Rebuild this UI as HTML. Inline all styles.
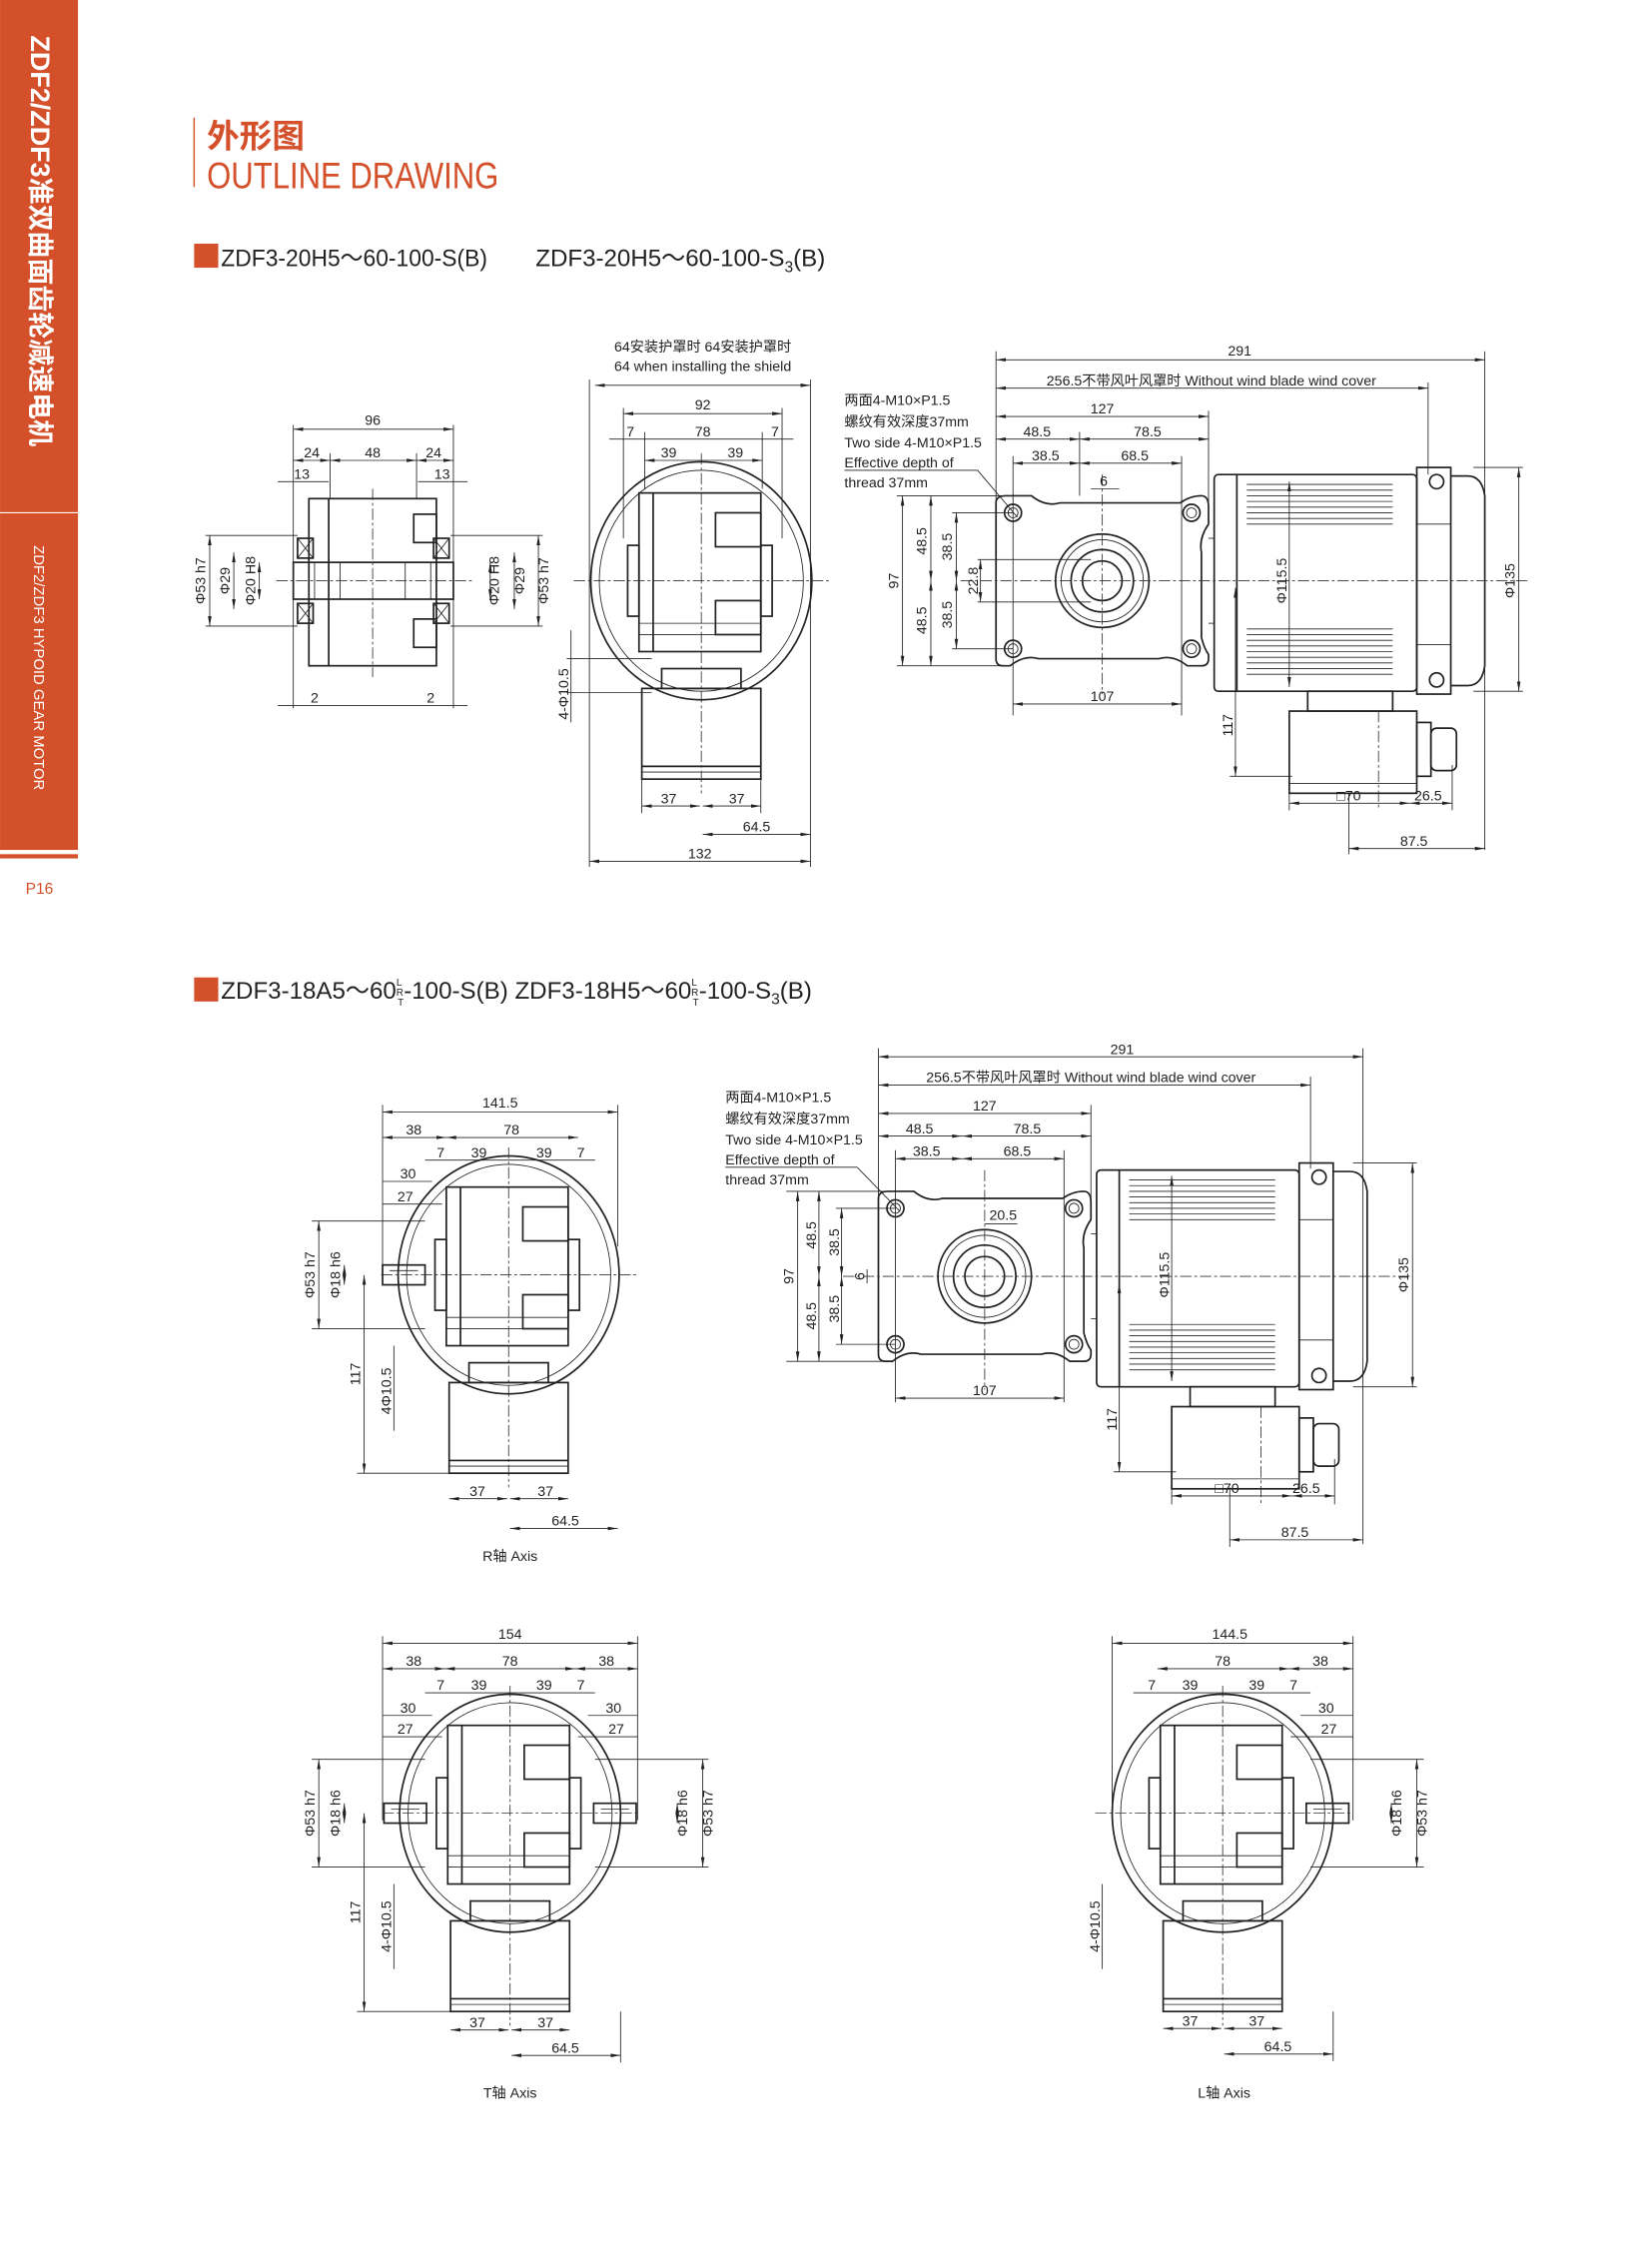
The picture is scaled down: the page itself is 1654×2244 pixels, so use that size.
<!DOCTYPE html>
<html><head><meta charset="utf-8">
<style>
html,body{margin:0;padding:0;background:#fff;}
svg{display:block;}
text{font-family:"Liberation Sans Narrow","Liberation Sans","Noto Sans CJK SC",sans-serif;fill:#222;}
.t{font-size:10px;text-anchor:middle;}
.n{font-size:10px;}
.s{stroke:#222;fill:none;stroke-width:1.2;}
.th{stroke:#222;fill:none;stroke-width:0.6;}
.c{stroke:#333;fill:none;stroke-width:0.6;stroke-dasharray:8 2 2 2;}
.d{stroke:#222;fill:none;stroke-width:0.6;marker-start:url(#a);marker-end:url(#a);}
</style></head><body>
<svg width="1654" height="2244" viewBox="0 0 1166 1582" xmlns="http://www.w3.org/2000/svg">
<defs>
<marker id="a" viewBox="0 0 10 10" refX="10" refY="5" markerWidth="7" markerHeight="7" orient="auto-start-reverse" markerUnits="userSpaceOnUse">
<path d="M0,3.2 L10,5 L0,6.8 z" fill="#222"/></marker>
<g id="round">
<ellipse class="s" cx="0" cy="0" rx="78" ry="84"/>
<ellipse class="th" cx="0" cy="0" rx="72" ry="78"/>
<rect class="s" x="-44" y="-62" width="86" height="112"/>
<line class="s" x1="-34" y1="-62" x2="-34" y2="50"/>
<rect class="s" x="10" y="-48" width="32" height="24"/>
<rect class="s" x="10" y="14" width="32" height="24"/>
<rect class="s" x="-52" y="-25" width="8" height="50"/>
<rect class="s" x="42" y="-25" width="8" height="50"/>
<line class="th" x1="-44" y1="30" x2="42" y2="30"/>
<line class="th" x1="-44" y1="38" x2="42" y2="38"/>
<rect class="s" x="-28" y="62" width="56" height="14"/>
<rect class="s" x="-42" y="76" width="84" height="64"/>
<line class="s" x1="-42" y1="131" x2="42" y2="131"/>
<line class="th" x1="-42" y1="135" x2="42" y2="135"/>
<line class="c" x1="-90" y1="0" x2="90" y2="0"/>
<line class="c" x1="0" y1="-90" x2="0" y2="150"/>
</g>
<g id="shaft">
<rect class="s" x="0" y="-7" width="30" height="14"/>
<line class="th" x1="5" y1="-3" x2="25" y2="-3"/>
</g>
<g id="motor">
<path class="s" d="M-75,-55 Q-75,-60 -68,-60 L-50,-60 Q-40,-52 -30,-55 L55,-55 Q62,-60 70,-60 Q75,-60 75,-52 L75,-40 Q68,-30 70,-20 L70,40 Q72,48 75,52 L75,55 Q75,60 70,60 L60,60 Q50,52 40,55 L-45,55 Q-55,52 -65,60 L-70,60 Q-75,60 -75,55 Z"/>
<circle class="s" cx="-63" cy="-48" r="6"/><circle class="th" cx="-63" cy="-48" r="3.5"/>
<circle class="s" cx="63" cy="-48" r="6"/><circle class="th" cx="63" cy="-48" r="3.5"/>
<circle class="s" cx="-63" cy="48" r="6"/><circle class="th" cx="-63" cy="48" r="3.5"/>
<circle class="s" cx="63" cy="48" r="6"/><circle class="th" cx="63" cy="48" r="3.5"/>
<circle class="s" cx="0" cy="0" r="33"/><circle class="th" cx="0" cy="0" r="29"/>
<circle class="s" cx="0" cy="0" r="22"/><circle class="s" cx="0" cy="0" r="14"/>
<line class="th" x1="75" y1="-30" x2="79" y2="-30"/><line class="th" x1="75" y1="30" x2="79" y2="30"/>
<rect class="s" x="79" y="-75" width="143" height="153" rx="3"/>
<line class="s" x1="95" y1="-75" x2="95" y2="78"/>
<g class="th">
<path d="M102,-68H205M102,-64H205M102,-60H205M102,-56H205M102,-52H205M102,-48H205M102,-44H205M102,-40H205"/>
<path d="M102,34H205M102,38H205M102,42H205M102,46H205M102,50H205M102,54H205M102,58H205M102,62H205M102,66H205"/>
</g>
<rect class="s" x="222" y="-80" width="24" height="160"/>
<path class="s" d="M246,-74 L258,-74 Q268,-74 270,-60 L270,60 Q268,74 258,74 L246,74"/>
<circle class="s" cx="236" cy="-70" r="5"/><circle class="s" cx="236" cy="70" r="5"/>
<line class="th" x1="222" y1="-40" x2="246" y2="-40"/><line class="th" x1="222" y1="45" x2="246" y2="45"/>
<rect class="s" x="145" y="78" width="60" height="14"/>
<rect class="s" x="132" y="92" width="90" height="58"/>
<line class="th" x1="132" y1="143" x2="222" y2="143"/>
<rect class="s" x="222" y="100" width="10" height="38"/>
<rect class="s" x="232" y="104" width="18" height="30" rx="4"/>
<line class="c" x1="-100" y1="0" x2="300" y2="0"/>
<line class="c" x1="0" y1="-75" x2="0" y2="80"/>
<line class="c" x1="195" y1="92" x2="195" y2="160"/>
</g>
</defs>

<rect x="0" y="0" width="55" height="600" fill="#d4502a"/>
<rect x="0" y="603" width="55" height="3" fill="#d4502a"/>
<line x1="0" y1="362" x2="55" y2="362" stroke="#fff" stroke-width="0.8"/>
<text transform="translate(22,25) rotate(90)" style="font-family:'Liberation Sans','Noto Sans CJK SC',sans-serif;font-size:19px;font-weight:bold;fill:#fff">ZDF2/ZDF3准双曲面齿轮减速电机</text>
<text transform="translate(24,385) rotate(90)" style="font-family:'Liberation Sans',sans-serif;font-size:10.5px;fill:#fff">ZDF2/ZDF3 HYPOID GEAR MOTOR</text>
<text x="18" y="631" style="font-size:11px;fill:#d4502a">P16</text>

<line x1="137" y1="83" x2="137" y2="132" stroke="#d4502a" stroke-width="1"/>
<text x="146" y="104" style="font-family:'Noto Sans CJK SC',sans-serif;font-size:23px;font-weight:bold;fill:#d4502a">外形图</text>
<text x="146" y="133" style="font-size:26px;fill:#d4502a" textLength="206" lengthAdjust="spacingAndGlyphs">OUTLINE DRAWING</text>

<rect x="137" y="172" width="17" height="17" fill="#d4502a"/>
<text x="156" y="188" style="font-size:17px" textLength="188" lengthAdjust="spacingAndGlyphs">ZDF3-20H5～60-100-S(B)</text>
<text x="378" y="188" style="font-size:17px">ZDF3-20H5～60-100-S<tspan dy="4" font-size="11">3</tspan><tspan dy="-4">(B)</tspan></text>

<rect x="137" y="690" width="17" height="17" fill="#d4502a"/>
<text x="156" y="705" style="font-size:17px">ZDF3-18A5～60<tspan font-size="7" dy="-9" dx="0">L</tspan><tspan font-size="7" dx="-4" dy="7">R</tspan><tspan font-size="7" dx="-4" dy="7">T</tspan><tspan dy="-5">-100-S(B)  ZDF3-18H5～60</tspan><tspan font-size="7" dy="-9">L</tspan><tspan font-size="7" dx="-4" dy="7">R</tspan><tspan font-size="7" dx="-4" dy="7">T</tspan><tspan dy="-5">-100-S</tspan><tspan font-size="11" dy="4">3</tspan><tspan dy="-4">(B)</tspan></text>

<g>
<rect class="s" x="218" y="352" width="90" height="118"/>
<line class="s" x1="232" y1="352" x2="232" y2="470"/>
<rect class="s" x="207" y="397" width="113" height="26"/>
<line class="th" x1="222" y1="397" x2="222" y2="423"/><line class="th" x1="304" y1="397" x2="304" y2="423"/>
<line class="th" x1="240" y1="397" x2="240" y2="423"/><line class="th" x1="286" y1="397" x2="286" y2="423"/>
<rect class="s" x="210" y="380" width="11" height="14"/><path class="th" d="M210,380 L221,394 M221,380 L210,394"/>
<rect class="s" x="306" y="380" width="11" height="14"/><path class="th" d="M306,380 L317,394 M317,380 L306,394"/>
<rect class="s" x="210" y="426" width="11" height="14"/><path class="th" d="M210,426 L221,440 M221,426 L210,440"/>
<rect class="s" x="306" y="426" width="11" height="14"/><path class="th" d="M306,426 L317,440 M317,426 L306,440"/>
<rect class="s" x="292" y="363" width="16" height="20"/><rect class="s" x="292" y="437" width="16" height="20"/>
<line class="c" x1="195" y1="410" x2="335" y2="410"/><line class="c" x1="263" y1="345" x2="263" y2="478"/>
<line class="d" x1="207" y1="303" x2="320" y2="303"/><text class="t" x="263" y="300">96</text>
<line class="d" x1="207" y1="325" x2="233" y2="325"/><line class="d" x1="233" y1="325" x2="294" y2="325"/><line class="d" x1="294" y1="325" x2="320" y2="325"/>
<text class="t" x="220" y="323">24</text><text class="t" x="263" y="323">48</text><text class="t" x="306" y="323">24</text>
<line class="th" x1="196" y1="340" x2="232" y2="340"/><line class="th" x1="295" y1="340" x2="330" y2="340"/>
<text class="t" x="213" y="338">13</text><text class="t" x="312" y="338">13</text>
<line class="th" x1="207" y1="300" x2="207" y2="500"/><line class="th" x1="320" y1="300" x2="320" y2="500"/>
<line class="th" x1="233" y1="320" x2="233" y2="352"/><line class="th" x1="294" y1="320" x2="294" y2="352"/>
<line class="d" x1="148" y1="378" x2="148" y2="442"/><line class="d" x1="165" y1="390" x2="165" y2="430"/><line class="d" x1="183" y1="397" x2="183" y2="423"/>
<line class="d" x1="346" y1="397" x2="346" y2="423"/><line class="d" x1="363" y1="390" x2="363" y2="430"/><line class="d" x1="380" y1="378" x2="380" y2="442"/>
<line class="th" x1="145" y1="378" x2="210" y2="378"/><line class="th" x1="145" y1="442" x2="210" y2="442"/>
<line class="th" x1="318" y1="378" x2="383" y2="378"/><line class="th" x1="318" y1="442" x2="383" y2="442"/>
<text class="t" transform="translate(145,410) rotate(-90)">Φ53 h7</text>
<text class="t" transform="translate(162,410) rotate(-90)">Φ29</text>
<text class="t" transform="translate(180,410) rotate(-90)">Φ20 H8</text>
<text class="t" transform="translate(352,410) rotate(-90)">Φ20 H8</text>
<text class="t" transform="translate(370,410) rotate(-90)">Φ29</text>
<text class="t" transform="translate(387,410) rotate(-90)">Φ53 h7</text>
<line class="th" x1="196" y1="498" x2="330" y2="498"/>
<text class="t" x="222" y="496">2</text><text class="t" x="304" y="496">2</text>
</g>

<use href="#round" x="495" y="410"/>
<text class="t" x="496" y="248">64安装护罩时  64安装护罩时</text>
<text class="t" x="496" y="262">64 when installing the shield</text>
<line class="d" x1="420" y1="272" x2="572" y2="272"/>
<line class="d" x1="440" y1="292" x2="552" y2="292"/><text class="t" x="496" y="289">92</text>
<line class="th" x1="430" y1="310" x2="560" y2="310"/>
<text class="t" x="445" y="308">7</text><text class="t" x="496" y="308">78</text><text class="t" x="547" y="308">7</text>
<line class="d" x1="455" y1="325" x2="538" y2="325"/>
<text class="t" x="472" y="323">39</text><text class="t" x="519" y="323">39</text>
<line class="th" x1="440" y1="288" x2="440" y2="380"/><line class="th" x1="552" y1="288" x2="552" y2="380"/>
<line class="th" x1="455" y1="305" x2="455" y2="345"/><line class="th" x1="538" y1="305" x2="538" y2="345"/>
<line class="th" x1="416" y1="268" x2="416" y2="612"/><line class="th" x1="572" y1="268" x2="572" y2="612"/>
<line class="th" x1="400" y1="465" x2="460" y2="465"/><line class="th" x1="400" y1="489" x2="460" y2="489"/>
<line class="th" x1="403" y1="445" x2="403" y2="510"/>
<text class="t" transform="translate(401,490) rotate(-90)">4-Φ10.5</text>
<line class="d" x1="453" y1="569" x2="494" y2="569"/><line class="d" x1="496" y1="569" x2="537" y2="569"/>
<text class="t" x="472" y="567">37</text><text class="t" x="520" y="567">37</text>
<line class="th" x1="453" y1="550" x2="453" y2="574"/><line class="th" x1="537" y1="550" x2="537" y2="574"/>
<line class="d" x1="496" y1="589" x2="572" y2="589"/><text class="t" x="534" y="587">64.5</text>
<line class="d" x1="416" y1="608" x2="572" y2="608"/><text class="t" x="494" y="606">132</text>

<use href="#motor" x="778" y="410"/>
<line class="th" x1="703" y1="248" x2="703" y2="360"/><line class="th" x1="1048" y1="248" x2="1048" y2="600"/>
<line class="d" x1="703" y1="254" x2="1048" y2="254"/><text class="t" x="875" y="251">291</text>
<line class="d" x1="703" y1="274" x2="1008" y2="274"/><text class="t" x="855" y="272">256.5不带风叶风罩时 Without wind blade wind cover</text>
<line class="th" x1="1008" y1="270" x2="1008" y2="335"/>
<line class="d" x1="703" y1="294" x2="853" y2="294"/><text class="t" x="778" y="292">127</text>
<line class="th" x1="853" y1="290" x2="853" y2="360"/>
<line class="d" x1="703" y1="310" x2="762" y2="310"/><line class="d" x1="762" y1="310" x2="853" y2="310"/>
<text class="t" x="732" y="308">48.5</text><text class="t" x="810" y="308">78.5</text>
<line class="d" x1="715" y1="327" x2="762" y2="327"/><line class="d" x1="762" y1="327" x2="834" y2="327"/>
<text class="t" x="738" y="325">38.5</text><text class="t" x="801" y="325">68.5</text>
<line class="th" x1="715" y1="322" x2="715" y2="505"/><line class="th" x1="834" y1="322" x2="834" y2="505"/>
<line class="th" x1="762" y1="305" x2="762" y2="350"/>
<line class="th" x1="770" y1="345" x2="790" y2="345"/><text class="t" x="779" y="343">6</text>
<text class="n" x="596" y="286">两面4-M10×P1.5</text>
<text class="n" x="596" y="301">螺纹有效深度37mm</text>
<text class="n" x="596" y="316">Two side 4-M10×P1.5</text>
<text class="n" x="596" y="330">Effective depth of</text>
<text class="n" x="596" y="344">thread 37mm</text>
<line class="th" x1="596" y1="332" x2="690" y2="332"/><line class="th" x1="690" y1="332" x2="718" y2="365"/>
<line class="th" x1="633" y1="350" x2="710" y2="350"/><line class="th" x1="633" y1="470" x2="710" y2="470"/>
<line class="d" x1="637" y1="350" x2="637" y2="470"/><text class="t" transform="translate(634,410) rotate(-90)">97</text>
<line class="d" x1="657" y1="350" x2="657" y2="410"/><line class="d" x1="657" y1="410" x2="657" y2="470"/>
<text class="t" transform="translate(654,382) rotate(-90)">48.5</text><text class="t" transform="translate(654,438) rotate(-90)">48.5</text>
<line class="th" x1="672" y1="362" x2="715" y2="362"/><line class="th" x1="672" y1="458" x2="715" y2="458"/>
<line class="d" x1="675" y1="362" x2="675" y2="410"/><line class="d" x1="675" y1="410" x2="675" y2="458"/>
<text class="t" transform="translate(672,386) rotate(-90)">38.5</text><text class="t" transform="translate(672,434) rotate(-90)">38.5</text>
<line class="th" x1="690" y1="395" x2="770" y2="395"/><line class="th" x1="690" y1="425" x2="770" y2="425"/>
<line class="d" x1="692" y1="395" x2="692" y2="425"/><text class="t" transform="translate(690,410) rotate(-90)">22.8</text>
<line class="d" x1="715" y1="497" x2="834" y2="497"/><text class="t" x="778" y="495">107</text>
<line class="d" x1="910" y1="340" x2="910" y2="485"/>
<text class="t" transform="translate(908,410) rotate(-90)">Φ115.5</text>
<line class="th" x1="1040" y1="330" x2="1075" y2="330"/><line class="th" x1="1040" y1="488" x2="1075" y2="488"/>
<line class="d" x1="1072" y1="330" x2="1072" y2="488"/>
<text class="t" transform="translate(1069,410) rotate(-90)">Φ135</text>
<line class="d" x1="872" y1="415" x2="872" y2="548"/><line class="th" x1="868" y1="548" x2="912" y2="548"/>
<text class="t" transform="translate(870,512) rotate(-90)">117</text>
<line class="d" x1="910" y1="567" x2="995" y2="567"/><line class="d" x1="995" y1="567" x2="1025" y2="567"/>
<text class="t" x="952" y="565">□70</text><text class="t" x="1008" y="565">26.5</text>
<line class="th" x1="910" y1="550" x2="910" y2="572"/><line class="th" x1="1025" y1="540" x2="1025" y2="572"/>
<line class="th" x1="952" y1="560" x2="952" y2="603"/>
<line class="d" x1="952" y1="599" x2="1048" y2="599"/><text class="t" x="998" y="597">87.5</text>

<use href="#round" x="359" y="900"/>
<use href="#shaft" transform="translate(300,900) scale(-1,1)"/>
<line class="d" x1="270" y1="785" x2="436" y2="785"/><text class="t" x="353" y="782">141.5</text>
<line class="d" x1="270" y1="803" x2="315" y2="803"/><line class="d" x1="315" y1="803" x2="408" y2="803"/>
<text class="t" x="292" y="801">38</text><text class="t" x="361" y="801">78</text>
<line class="th" x1="300" y1="819" x2="420" y2="819"/>
<text class="t" x="311" y="817">7</text><text class="t" x="338" y="817">39</text><text class="t" x="384" y="817">39</text><text class="t" x="410" y="817">7</text>
<line class="th" x1="270" y1="834" x2="305" y2="834"/><text class="t" x="288" y="832">30</text>
<line class="th" x1="270" y1="850" x2="312" y2="850"/><text class="t" x="286" y="848">27</text>
<line class="th" x1="270" y1="780" x2="270" y2="905"/><line class="th" x1="436" y1="780" x2="436" y2="880"/>
<line class="d" x1="225" y1="862" x2="225" y2="938"/><line class="d" x1="243" y1="893" x2="243" y2="907"/>
<line class="th" x1="220" y1="862" x2="300" y2="862"/><line class="th" x1="220" y1="938" x2="300" y2="938"/>
<text class="t" transform="translate(222,900) rotate(-90)">Φ53 h7</text><text class="t" transform="translate(240,900) rotate(-90)">Φ18 h6</text>
<line class="d" x1="257" y1="900" x2="257" y2="1040"/><line class="th" x1="252" y1="1040" x2="318" y2="1040"/>
<text class="t" transform="translate(254,970) rotate(-90)">117</text>
<line class="th" x1="278" y1="950" x2="278" y2="1010"/>
<text class="t" transform="translate(276,982) rotate(-90)">4Φ10.5</text>
<line class="d" x1="317" y1="1058" x2="358" y2="1058"/><line class="d" x1="360" y1="1058" x2="401" y2="1058"/>
<text class="t" x="337" y="1056">37</text><text class="t" x="385" y="1056">37</text>
<line class="d" x1="360" y1="1079" x2="436" y2="1079"/><text class="t" x="399" y="1077">64.5</text>
<text class="t" x="360" y="1102">R轴 Axis</text>

<use href="#motor" x="695" y="901"/>
<line class="th" x1="620" y1="740" x2="620" y2="850"/><line class="th" x1="962" y1="740" x2="962" y2="1090"/>
<line class="d" x1="620" y1="746" x2="962" y2="746"/><text class="t" x="792" y="744">291</text>
<line class="d" x1="620" y1="766" x2="925" y2="766"/><text class="t" x="770" y="764">256.5不带风叶风罩时 Without wind blade wind cover</text>
<line class="th" x1="925" y1="760" x2="925" y2="825"/>
<line class="d" x1="620" y1="786" x2="770" y2="786"/><text class="t" x="695" y="784">127</text>
<line class="th" x1="770" y1="780" x2="770" y2="850"/>
<line class="d" x1="620" y1="802" x2="679" y2="802"/><line class="d" x1="679" y1="802" x2="770" y2="802"/>
<text class="t" x="649" y="800">48.5</text><text class="t" x="725" y="800">78.5</text>
<line class="d" x1="632" y1="818" x2="679" y2="818"/><line class="d" x1="679" y1="818" x2="751" y2="818"/>
<text class="t" x="654" y="816">38.5</text><text class="t" x="718" y="816">68.5</text>
<line class="th" x1="632" y1="812" x2="632" y2="990"/><line class="th" x1="751" y1="812" x2="751" y2="990"/>
<text class="n" x="512" y="778">两面4-M10×P1.5</text>
<text class="n" x="512" y="793">螺纹有效深度37mm</text>
<text class="n" x="512" y="808">Two side 4-M10×P1.5</text>
<text class="n" x="512" y="822">Effective depth of</text>
<text class="n" x="512" y="836">thread 37mm</text>
<line class="th" x1="512" y1="824" x2="605" y2="824"/><line class="th" x1="605" y1="824" x2="635" y2="855"/>
<text class="t" x="708" y="861">20.5</text><line class="th" x1="695" y1="864" x2="718" y2="864"/>
<line class="th" x1="555" y1="841" x2="625" y2="841"/><line class="th" x1="555" y1="961" x2="625" y2="961"/>
<line class="d" x1="563" y1="841" x2="563" y2="961"/><text class="t" transform="translate(560,901) rotate(-90)">97</text>
<line class="d" x1="578" y1="841" x2="578" y2="901"/><line class="d" x1="578" y1="901" x2="578" y2="961"/>
<text class="t" transform="translate(576,872) rotate(-90)">48.5</text><text class="t" transform="translate(576,929) rotate(-90)">48.5</text>
<line class="th" x1="590" y1="853" x2="632" y2="853"/><line class="th" x1="590" y1="949" x2="632" y2="949"/>
<line class="d" x1="594" y1="853" x2="594" y2="901"/><line class="d" x1="594" y1="901" x2="594" y2="949"/>
<text class="t" transform="translate(592,877) rotate(-90)">38.5</text><text class="t" transform="translate(592,924) rotate(-90)">38.5</text>
<line class="th" x1="612" y1="896" x2="612" y2="906"/><text class="t" transform="translate(610,901) rotate(-90)">6</text>
<line class="d" x1="632" y1="987" x2="751" y2="987"/><text class="t" x="695" y="985">107</text>
<line class="d" x1="827" y1="830" x2="827" y2="975"/><text class="t" transform="translate(825,900) rotate(-90)">Φ115.5</text>
<line class="th" x1="955" y1="821" x2="1000" y2="821"/><line class="th" x1="955" y1="979" x2="1000" y2="979"/>
<line class="d" x1="997" y1="821" x2="997" y2="979"/><text class="t" transform="translate(994,900) rotate(-90)">Φ135</text>
<line class="d" x1="790" y1="906" x2="790" y2="1039"/><line class="th" x1="786" y1="1039" x2="830" y2="1039"/>
<text class="t" transform="translate(788,1002) rotate(-90)">117</text>
<line class="d" x1="827" y1="1056" x2="912" y2="1056"/><line class="d" x1="912" y1="1056" x2="942" y2="1056"/>
<text class="t" x="866" y="1054">□70</text><text class="t" x="922" y="1054">26.5</text>
<line class="th" x1="827" y1="1040" x2="827" y2="1062"/><line class="th" x1="942" y1="1030" x2="942" y2="1062"/>
<line class="th" x1="868" y1="1050" x2="868" y2="1092"/>
<line class="d" x1="868" y1="1087" x2="962" y2="1087"/><text class="t" x="914" y="1085">87.5</text>

<use href="#round" x="360" y="1280"/>
<use href="#shaft" transform="translate(301,1280) scale(-1,1)"/>
<use href="#shaft" x="419" y="1280"/>
<line class="d" x1="270" y1="1160" x2="450" y2="1160"/><text class="t" x="360" y="1157">154</text>
<line class="d" x1="270" y1="1178" x2="314" y2="1178"/><line class="d" x1="314" y1="1178" x2="406" y2="1178"/><line class="d" x1="406" y1="1178" x2="450" y2="1178"/>
<text class="t" x="292" y="1176">38</text><text class="t" x="360" y="1176">78</text><text class="t" x="428" y="1176">38</text>
<line class="th" x1="300" y1="1195" x2="420" y2="1195"/>
<text class="t" x="311" y="1193">7</text><text class="t" x="338" y="1193">39</text><text class="t" x="384" y="1193">39</text><text class="t" x="410" y="1193">7</text>
<line class="th" x1="270" y1="1211" x2="305" y2="1211"/><text class="t" x="288" y="1209">30</text>
<line class="th" x1="415" y1="1211" x2="450" y2="1211"/><text class="t" x="433" y="1209">30</text>
<line class="th" x1="270" y1="1226" x2="312" y2="1226"/><text class="t" x="286" y="1224">27</text>
<line class="th" x1="408" y1="1226" x2="450" y2="1226"/><text class="t" x="435" y="1224">27</text>
<line class="th" x1="270" y1="1155" x2="270" y2="1285"/><line class="th" x1="450" y1="1155" x2="450" y2="1285"/>
<line class="d" x1="225" y1="1242" x2="225" y2="1318"/><line class="d" x1="243" y1="1273" x2="243" y2="1287"/>
<line class="th" x1="220" y1="1242" x2="300" y2="1242"/><line class="th" x1="220" y1="1318" x2="300" y2="1318"/>
<text class="t" transform="translate(222,1280) rotate(-90)">Φ53 h7</text><text class="t" transform="translate(240,1280) rotate(-90)">Φ18 h6</text>
<line class="d" x1="478" y1="1273" x2="478" y2="1287"/><line class="d" x1="496" y1="1242" x2="496" y2="1318"/>
<line class="th" x1="420" y1="1242" x2="500" y2="1242"/><line class="th" x1="420" y1="1318" x2="500" y2="1318"/>
<text class="t" transform="translate(485,1280) rotate(-90)">Φ18 h6</text><text class="t" transform="translate(503,1280) rotate(-90)">Φ53 h7</text>
<line class="d" x1="257" y1="1280" x2="257" y2="1420"/><line class="th" x1="252" y1="1420" x2="318" y2="1420"/>
<text class="t" transform="translate(254,1350) rotate(-90)">117</text>
<line class="th" x1="278" y1="1330" x2="278" y2="1390"/>
<text class="t" transform="translate(276,1360) rotate(-90)">4-Φ10.5</text>
<line class="d" x1="318" y1="1433" x2="359" y2="1433"/><line class="d" x1="361" y1="1433" x2="402" y2="1433"/>
<text class="t" x="337" y="1431">37</text><text class="t" x="385" y="1431">37</text>
<line class="d" x1="361" y1="1451" x2="438" y2="1451"/><text class="t" x="399" y="1449">64.5</text>
<line class="th" x1="438" y1="1420" x2="438" y2="1456"/>
<text class="t" x="360" y="1481">T轴 Axis</text>

<use href="#round" x="863" y="1280"/>
<use href="#shaft" x="922" y="1280"/>
<line class="d" x1="785" y1="1160" x2="955" y2="1160"/><text class="t" x="868" y="1157">144.5</text>
<line class="d" x1="817" y1="1178" x2="910" y2="1178"/><line class="d" x1="910" y1="1178" x2="955" y2="1178"/>
<text class="t" x="863" y="1176">78</text><text class="t" x="932" y="1176">38</text>
<line class="th" x1="800" y1="1195" x2="925" y2="1195"/>
<text class="t" x="813" y="1193">7</text><text class="t" x="840" y="1193">39</text><text class="t" x="887" y="1193">39</text><text class="t" x="913" y="1193">7</text>
<line class="th" x1="918" y1="1211" x2="955" y2="1211"/><text class="t" x="936" y="1209">30</text>
<line class="th" x1="911" y1="1226" x2="955" y2="1226"/><text class="t" x="938" y="1224">27</text>
<line class="th" x1="785" y1="1155" x2="785" y2="1285"/><line class="th" x1="955" y1="1155" x2="955" y2="1285"/>
<line class="d" x1="982" y1="1273" x2="982" y2="1287"/><line class="d" x1="1000" y1="1242" x2="1000" y2="1318"/>
<line class="th" x1="925" y1="1242" x2="1005" y2="1242"/><line class="th" x1="925" y1="1318" x2="1005" y2="1318"/>
<text class="t" transform="translate(989,1280) rotate(-90)">Φ18 h6</text><text class="t" transform="translate(1007,1280) rotate(-90)">Φ53 h7</text>
<line class="th" x1="778" y1="1330" x2="778" y2="1390"/>
<text class="t" transform="translate(776,1360) rotate(-90)">4-Φ10.5</text>
<line class="d" x1="821" y1="1432" x2="862" y2="1432"/><line class="d" x1="864" y1="1432" x2="905" y2="1432"/>
<text class="t" x="840" y="1430">37</text><text class="t" x="887" y="1430">37</text>
<line class="d" x1="864" y1="1450" x2="941" y2="1450"/><text class="t" x="902" y="1448">64.5</text>
<line class="th" x1="941" y1="1420" x2="941" y2="1455"/>
<text class="t" x="864" y="1481">L轴 Axis</text>
</svg>
</body></html>
